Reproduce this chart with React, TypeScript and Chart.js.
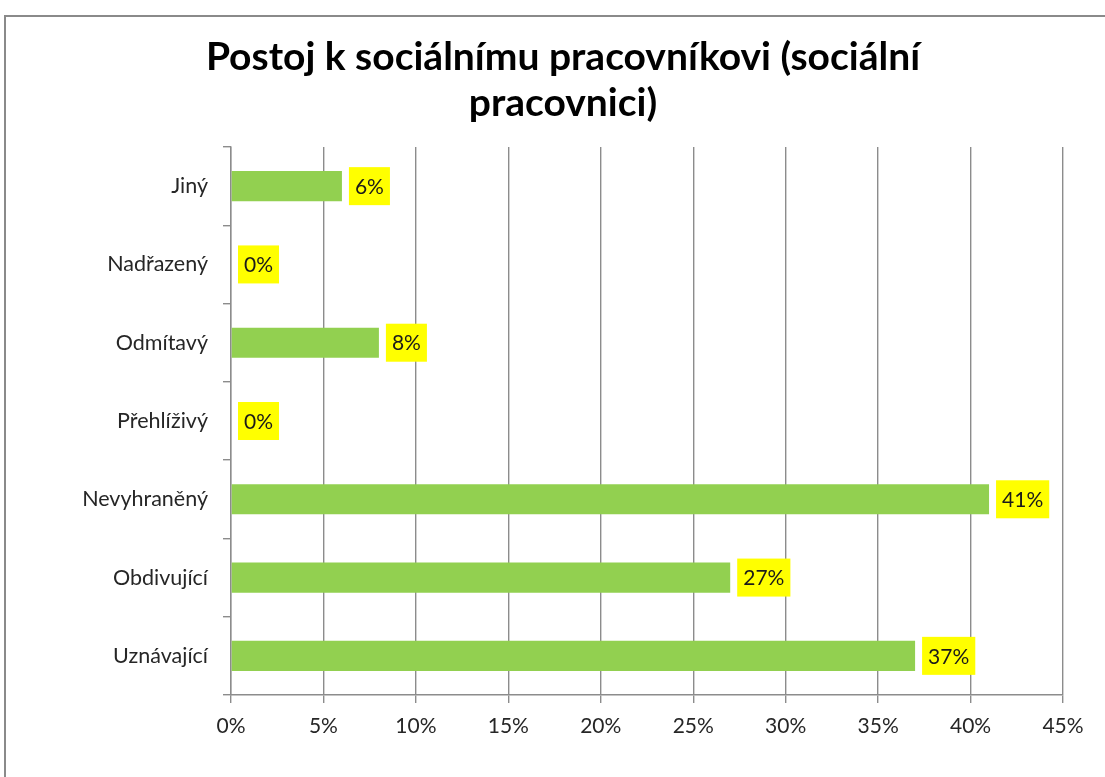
import React, { useEffect, useRef } from "react";
import { Chart, registerables } from "chart.js";

Chart.register(...registerables);

const titleLines = ["Postoj k sociálnímu pracovníkovi (sociální", "pracovnici)"];
const categories = ["Jiný", "Nadřazený", "Odmítavý", "Přehlíživý", "Nevyhraněný", "Obdivující", "Uznávající"];
const values = [6, 0, 8, 0, 41, 27, 37];
const xMin = 0;
const xMax = 45;
const xStep = 5;

const FONT = "Lato, 'Open Sans', sans-serif";
const GRID = "#8c8c8c";

const framePlugin = {
  id: "frame",
  beforeDraw(chart: any) {
    const ctx = chart.ctx;
    ctx.save();
    ctx.fillStyle = "#ffffff";
    ctx.fillRect(0, 0, chart.width, chart.height);
    ctx.strokeStyle = "#8a8a8a";
    ctx.lineWidth = 2;
    ctx.strokeRect(5, 16, chart.width + 20, chart.height + 20);
    ctx.restore();
  },
};

const labelPlugin = {
  id: "boxLabels",
  afterDatasetsDraw(chart: any) {
    const ctx = chart.ctx;
    const meta = chart.getDatasetMeta(0);
    ctx.save();
    ctx.font = `21px ${FONT}`;
    ctx.textBaseline = "middle";
    ctx.textAlign = "left";
    meta.data.forEach((bar: any, i: number) => {
      const text = `${values[i]}%`;
      const w = ctx.measureText(text).width;
      const padX = 6;
      const boxH = 38;
      const x0 = bar.x + 7;
      const y0 = bar.y - boxH / 2;
      ctx.fillStyle = "#FFFF00";
      ctx.fillRect(x0, y0, w + padX * 2, boxH);
      ctx.fillStyle = "#1a1a1a";
      ctx.fillText(text, x0 + padX, bar.y + 1);
    });
    ctx.restore();
  },
};

export default function App() {
  const ref = useRef<HTMLCanvasElement>(null);
  useEffect(() => {
    if (!ref.current) return;
    const chart = new Chart(ref.current, {
      type: "bar",
      data: {
        labels: categories,
        datasets: [
          {
            data: values,
            backgroundColor: "#92D050",
            borderWidth: 0,
            barPercentage: 0.385,
            categoryPercentage: 1,
          },
        ],
      },
      options: {
        indexAxis: "y",
        responsive: false,
        animation: false,
        layout: { padding: { left: 63, right: 42, top: 0, bottom: 0 } },
        plugins: {
          legend: { display: false },
          tooltip: { enabled: false },
          title: {
            display: true,
            text: titleLines,
            color: "#000000",
            font: { family: FONT, size: 39, weight: "bold", lineHeight: 46 / 39 },
            padding: { top: 34, bottom: 21 },
          },
        },
        scales: {
          x: {
            min: xMin,
            max: xMax,
            afterFit: (s: any) => {
              s.height = 82;
            },
            ticks: {
              stepSize: xStep,
              color: "#262626",
              font: { family: FONT, size: 21 },
              padding: 11,
              callback: (v: any) => `${v}%`,
            },
            grid: { color: GRID, lineWidth: 1.4, tickLength: 8, drawTicks: true },
            border: { color: GRID, width: 1.4 },
          },
          y: {
            afterFit: (s: any) => {
              s.width = 168;
            },
            ticks: {
              color: "#262626",
              font: { family: FONT, size: 21.5 },
              padding: 15,
            },
            grid: { drawOnChartArea: false, color: GRID, lineWidth: 1.4, tickLength: 8, offset: true },
            border: { color: GRID, width: 1.4 },
          },
        },
      },
      plugins: [framePlugin, labelPlugin],
    });
    return () => chart.destroy();
  }, []);
  return (
    <div style={{ position: "absolute", left: 0, top: 0, width: 1105, height: 777 }}>
      <canvas ref={ref} width={1105} height={777} style={{ width: 1105, height: 777, display: "block" }} />
    </div>
  );
}
